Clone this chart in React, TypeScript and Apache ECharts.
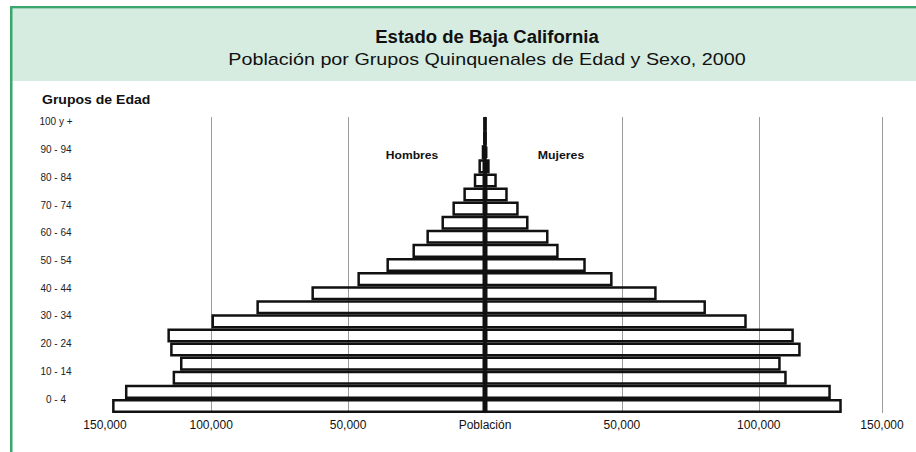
import React, { useEffect, useRef } from "react";
import * as echarts from "echarts";

const ageGroups = [
  "0 - 4", "5 - 9", "10 - 14", "15 - 19", "20 - 24", "25 - 29", "30 - 34",
  "35 - 39", "40 - 44", "45 - 49", "50 - 54", "55 - 59", "60 - 64", "65 - 69",
  "70 - 74", "75 - 79", "80 - 84", "85 - 89", "90 - 94", "95 - 99", "100 y +",
];

const hombres = [
  136200, 131500, 114100, 111400, 115000, 116000, 99900, 83500, 63400, 46600,
  36000, 26500, 21400, 15900, 11900, 7900, 4100, 2400, 1200, 500, 250,
];

const mujeres = [
  130300, 126300, 110200, 108000, 115300, 112800, 95600, 80700, 62700, 46600,
  36800, 26900, 23200, 15900, 12300, 8300, 4300, 1700, 900, 400, 200,
];

const xTickValues = [-145000, -100000, -50000, 0, 50000, 100000, 145000];
const xTickLabels = ["150,000", "100,000", "50,000", "Población", "50,000", "100,000", "150,000"];
const gridLineValues = [-100000, -50000, 50000, 100000, 145000];

const FONT = "'Liberation Sans', Arial, sans-serif";

export default function App() {
  const ref = useRef<HTMLDivElement>(null);

  useEffect(() => {
    if (!ref.current) return;
    const chart = echarts.init(ref.current, null, { renderer: "svg" });

    const option: any = {
      animation: false,
      backgroundColor: "#ffffff",
      graphic: [
        { type: "rect", z: -10, shape: { x: 12, y: 9, width: 904, height: 72 }, style: { fill: "#d6ece0" } },
        { type: "rect", z: -9, shape: { x: 10, y: 6, width: 906, height: 2.5 }, style: { fill: "#3aa66c" } },
        { type: "rect", z: -9, shape: { x: 10, y: 6, width: 2.5, height: 446 }, style: { fill: "#3aa66c" } },
        {
          type: "text", x: 487, y: 37, scaleX: 1.03,
          style: { text: "Estado de Baja California", fontFamily: FONT, fontSize: 18, fontWeight: "bold", fill: "#111", align: "center", verticalAlign: "middle" },
        },
        {
          type: "text", x: 487, y: 59, scaleX: 1.16,
          style: { text: "Población por Grupos Quinquenales de Edad y Sexo, 2000", fontFamily: FONT, fontSize: 17, fill: "#111", align: "center", verticalAlign: "middle" },
        },
        {
          type: "text", x: 42, y: 100, scaleX: 1.17,
          style: { text: "Grupos de Edad", fontFamily: FONT, fontSize: 12, fontWeight: "bold", fill: "#111", align: "left", verticalAlign: "middle" },
        },
        {
          type: "text", x: 412, y: 155, scaleX: 1.1,
          style: { text: "Hombres", fontFamily: FONT, fontSize: 11, fontWeight: "bold", fill: "#111", align: "center", verticalAlign: "middle" },
        },
        {
          type: "text", x: 561, y: 155, scaleX: 1.12,
          style: { text: "Mujeres", fontFamily: FONT, fontSize: 11, fontWeight: "bold", fill: "#111", align: "center", verticalAlign: "middle" },
        },
      ],
      grid: [
        { left: 88, right: 34, top: 117, bottom: 39 },
        { left: 88, right: 34, top: 115, bottom: 46 },
      ],
      xAxis: [
        {
          type: "value",
          gridIndex: 0,
          min: -145000,
          max: 145000,
          axisLine: { show: false },
          axisTick: { show: false },
          splitLine: { show: false },
          axisLabel: {
            customValues: xTickValues,
            margin: 6,
            fontFamily: FONT,
            fontSize: 12,
            color: "#111",
            formatter: (v: number) => {
              const i = xTickValues.indexOf(v);
              const s = i >= 0 ? xTickLabels[i] : "";
              return i === 0 ? "{l|" + s + "}" : s;
            },
            rich: { l: { padding: [0, 0, 0, 34], fontFamily: FONT, fontSize: 12, color: "#111" } },
          },
        },
        { type: "value", gridIndex: 1, min: 0, max: 1, show: false },
      ],
      yAxis: [
        {
          type: "category",
          gridIndex: 0,
          data: ageGroups,
          axisLine: { show: true, lineStyle: { color: "#b3b3b3", width: 1 } },
          axisTick: { show: false },
          axisLabel: { show: false },
          splitLine: { show: false },
        },
        {
          type: "category",
          gridIndex: 1,
          data: ageGroups,
          axisLine: { show: false },
          axisTick: { show: false },
          splitLine: { show: false },
          axisLabel: {
            interval: 1,
            margin: 32,
            align: "center",
            fontFamily: FONT,
            fontSize: 10,
            color: "#222",
          },
        },
      ],
      series: [
        {
          name: "Hombres",
          type: "bar",
          xAxisIndex: 0,
          yAxisIndex: 0,
          z: 3,
          barCategoryGap: "0%",
          barGap: "-100%",
          data: hombres.map((v) => -v),
          itemStyle: { color: "rgba(255,255,255,0)", borderColor: "#111", borderWidth: 2.5 },
          markLine: {
            silent: true,
            symbol: "none",
            z: 1,
            label: { show: false },
            lineStyle: { color: "#9a9a9a", width: 1, type: "solid" },
            data: gridLineValues.map((v) => ({ xAxis: v })),
          },
        },
        {
          name: "Mujeres",
          type: "bar",
          xAxisIndex: 0,
          yAxisIndex: 0,
          z: 3,
          barCategoryGap: "0%",
          barGap: "-100%",
          data: mujeres,
          itemStyle: { color: "rgba(255,255,255,0)", borderColor: "#111", borderWidth: 2.5 },
          markLine: {
            silent: true,
            symbol: "none",
            label: { show: false },
            lineStyle: { color: "#111", width: 3.5, type: "solid" },
            data: [{ xAxis: 0 }],
          },
        },
      ],
    };

    chart.setOption(option);
    return () => chart.dispose();
  }, []);

  return (
    <div
      ref={ref}
      style={{ position: "fixed", left: 0, top: 0, width: 916, height: 452 }}
    />
  );
}
